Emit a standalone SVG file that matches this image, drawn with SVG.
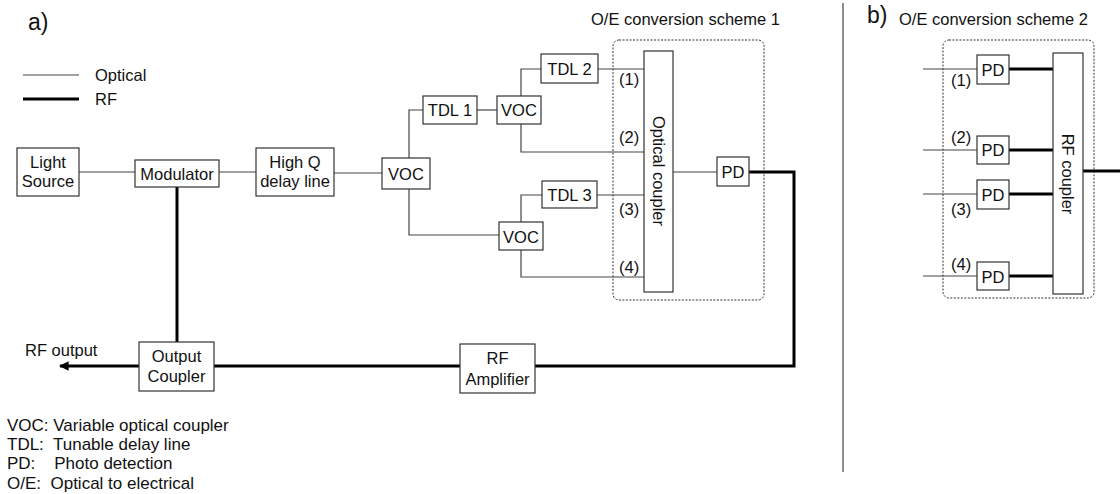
<svg xmlns="http://www.w3.org/2000/svg" width="1120" height="494" viewBox="0 0 1120 494">
<style>
text{font-family:"Liberation Sans",Arial,sans-serif;font-size:16.5px;fill:#111}
.c{text-anchor:middle}
.big{font-size:23px}
.leg{font-size:17px}
.box{fill:#fff;stroke:#333;stroke-width:1.2}
.opt{fill:none;stroke:#444;stroke-width:1.2}
.rf{fill:none;stroke:#000;stroke-width:3}
.dash{fill:none;stroke:#333;stroke-width:1;stroke-dasharray:2 1.5}
</style>
<defs>
<marker id="ah" viewBox="0 0 10 10" refX="9" refY="5" markerWidth="3.2" markerHeight="3.2" orient="auto" markerUnits="strokeWidth">
<path d="M0,0 L10,5 L0,10 z" fill="#000"/>
</marker>
</defs>
<rect width="1120" height="494" fill="#fff"/>
<text class="big" x="28" y="30">a)</text>
<text class="big" x="867" y="23">b)</text>
<line x1="843" y1="3" x2="843" y2="472" stroke="#444" stroke-width="1.2"/>
<g id="legend">
<line class="opt" x1="23" y1="75" x2="79" y2="75"/>
<text x="95" y="81">Optical</text>
<line class="rf" x1="23" y1="99" x2="79" y2="99"/>
<text x="95" y="105">RF</text>
<text class="leg" x="7" y="431">VOC: Variable optical coupler</text>
<text class="leg" x="7" y="450" xml:space="preserve">TDL:  Tunable delay line</text>
<text class="leg" x="7" y="469" xml:space="preserve">PD:    Photo detection</text>
<text class="leg" x="7" y="489" xml:space="preserve">O/E:  Optical to electrical</text>
</g>
<text x="591" y="25">O/E conversion scheme 1</text>
<text x="899" y="25">O/E conversion scheme 2</text>
<rect class="dash" x="613" y="40" width="151" height="260" rx="6"/>
<rect class="dash" x="943" y="40" width="151" height="258" rx="6"/>
<g id="connectors">
<path class="opt" d="M79,172 H135"/>
<path class="opt" d="M219,172 H256"/>
<path class="opt" d="M334,173 H382"/>
<path class="opt" d="M409,158 V110 H423"/>
<path class="opt" d="M477,110 H497"/>
<path class="opt" d="M521,96 V69 H541"/>
<path class="opt" d="M598,69 H644"/>
<path class="opt" d="M521,124 V152 H644"/>
<path class="opt" d="M409,189 V235 H499"/>
<path class="opt" d="M521,222 V195 H542"/>
<path class="opt" d="M597,195 H644"/>
<path class="opt" d="M521,250 V277 H644"/>
<path class="opt" d="M673,172 H717"/>
<path class="rf" d="M749,172 H794 V366 H535"/>
<path class="rf" d="M460,366 H214"/>
<path class="rf" d="M139,366 H60" marker-end="url(#ah)"/>
<path class="rf" d="M177,187 V342"/>
<path class="opt" d="M923,69 H977"/>
<path class="opt" d="M923,150 H977"/>
<path class="opt" d="M923,194 H977"/>
<path class="opt" d="M923,276 H977"/>
<path class="rf" d="M1009,69 H1053"/>
<path class="rf" d="M1009,150 H1053"/>
<path class="rf" d="M1009,194 H1053"/>
<path class="rf" d="M1009,276 H1053"/>
<path class="rf" d="M1083,171 H1120"/>
</g>
<g id="light-source"><rect class="box" x="17" y="148" width="62" height="48"/><text class="c" x="48" y="168">Light</text><text class="c" x="48" y="187">Source</text></g>
<g id="modulator"><rect class="box" x="135" y="160" width="84" height="27"/><text class="c" x="177" y="180">Modulator</text></g>
<g id="high-q"><rect class="box" x="256" y="148" width="78" height="48"/><text class="c" x="295" y="168">High Q</text><text class="c" x="295" y="187">delay line</text></g>
<g id="voc1"><rect class="box" x="382" y="158" width="48" height="31"/><text class="c" x="406" y="180">VOC</text></g>
<g id="tdl1"><rect class="box" x="423" y="96" width="54" height="28"/><text class="c" x="450" y="116">TDL 1</text></g>
<g id="voc2"><rect class="box" x="497" y="96" width="44" height="28"/><text class="c" x="519" y="116">VOC</text></g>
<g id="tdl2"><rect class="box" x="541" y="54" width="57" height="29"/><text class="c" x="569.5" y="75">TDL 2</text></g>
<g id="tdl3"><rect class="box" x="542" y="181" width="55" height="27"/><text class="c" x="569.5" y="201">TDL 3</text></g>
<g id="voc3"><rect class="box" x="499" y="222" width="44" height="28"/><text class="c" x="521" y="243">VOC</text></g>
<g id="optical-coupler"><rect class="box" x="644" y="51" width="29" height="241"/><text class="c" transform="translate(653,171) rotate(90)">Optical coupler</text></g>
<g id="labels-a"><text x="619" y="85">(1)</text><text x="619" y="143">(2)</text><text x="619" y="215">(3)</text><text x="619" y="273">(4)</text></g>
<g id="pd-a"><rect class="box" x="717" y="157" width="32" height="29"/><text class="c" x="733" y="178">PD</text></g>
<g id="output-coupler"><rect class="box" x="139" y="342" width="75" height="49"/><text class="c" x="176.5" y="362">Output</text><text class="c" x="176.5" y="382">Coupler</text></g>
<g id="rf-amplifier"><rect class="box" x="460" y="344" width="75" height="49"/><text class="c" x="497.5" y="364">RF</text><text class="c" x="497.5" y="385">Amplifier</text></g>
<text x="25" y="356">RF output</text>
<g id="pd-b1"><rect class="box" x="977" y="55" width="32" height="29"/><text class="c" x="993" y="76">PD</text></g>
<g id="pd-b2"><rect class="box" x="977" y="136" width="32" height="28"/><text class="c" x="993" y="156">PD</text></g>
<g id="pd-b3"><rect class="box" x="977" y="180" width="32" height="29"/><text class="c" x="993" y="201">PD</text></g>
<g id="pd-b4"><rect class="box" x="977" y="262" width="32" height="28"/><text class="c" x="993" y="283">PD</text></g>
<g id="rf-coupler"><rect class="box" x="1053" y="53" width="30" height="241"/><text class="c" transform="translate(1062,174) rotate(90)">RF coupler</text></g>
<g id="labels-b"><text x="951" y="86">(1)</text><text x="951" y="143">(2)</text><text x="951" y="215">(3)</text><text x="951" y="270">(4)</text></g>
</svg>
